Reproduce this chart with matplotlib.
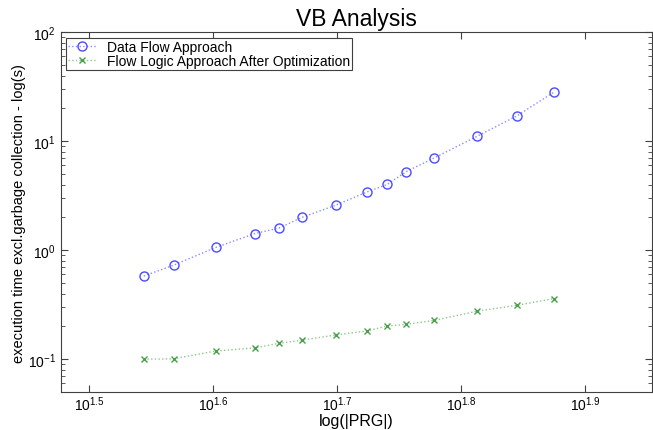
import matplotlib
matplotlib.use("Agg")
import matplotlib.pyplot as plt
import matplotlib.ticker as mticker
import numpy as np

plt.rcParams['font.family'] = ['Liberation Sans', 'DejaVu Sans']
plt.rcParams['mathtext.fontset'] = 'custom'
plt.rcParams['mathtext.rm'] = 'Liberation Sans'

# Data
prg_size = [35, 37, 40, 43, 45, 47, 50, 53, 55, 57, 60, 65, 70, 75]
data_flow = [0.58, 0.73, 1.06, 1.42, 1.60, 2.01, 2.59, 3.43, 4.01, 5.27, 7.01, 11.1, 17.1, 28.3]
flow_logic_opt = [0.100, 0.101, 0.119, 0.127, 0.140, 0.150, 0.167, 0.182, 0.202, 0.209, 0.227, 0.276, 0.313, 0.360]

x_tick_exp = [1.5, 1.6, 1.7, 1.8, 1.9]
x_tick_labels = [r'$10^{%s}$' % e for e in x_tick_exp]

fig = plt.figure(figsize=(6.53, 4.31), dpi=100)
ax = fig.add_axes([0.093, 0.088, 0.906, 0.835])

ax.plot(prg_size, data_flow, linestyle=':', color='#8c8cff', linewidth=1.0,
        marker='o', markersize=6.5, markerfacecolor='none',
        markeredgecolor='#4b4bff', markeredgewidth=1.0, label='Data Flow Approach')
ax.plot(prg_size, flow_logic_opt, linestyle=':', color='#8cc88c', linewidth=1.0,
        marker='x', markersize=4.5, markeredgecolor='#4aa04a', markeredgewidth=1.0,
        label='Flow Logic Approach After Optimization')

ax.set_xscale('log')
ax.set_yscale('log')
ax.set_xlim(30, 90)
ax.set_ylim(0.05, 100)

ax.set_xticks([10 ** e for e in x_tick_exp])
ax.xaxis.set_major_formatter(mticker.FixedFormatter(x_tick_labels))
ax.xaxis.set_minor_locator(mticker.NullLocator())
ax.yaxis.set_major_locator(mticker.LogLocator(base=10, numticks=10))
ax.yaxis.set_minor_locator(mticker.LogLocator(base=10, subs=np.arange(2, 10), numticks=10))

ax.tick_params(which='both', direction='in', top=True, right=True,
               labelsize=10, colors='#404040', labelcolor='black')
ax.tick_params(axis='x', pad=2)
ax.tick_params(which='major', length=5)
ax.tick_params(which='minor', length=3)
for sp in ax.spines.values():
    sp.set_color('#404040')
    sp.set_linewidth(0.8)

ax.set_title('VB Analysis', fontsize=16.5, pad=5)
ax.set_xlabel('log(|PRG|)', fontsize=11.5, labelpad=0)
ax.set_ylabel('execution time excl.garbage collection - log(s)', fontsize=10.5, labelpad=1)

leg = ax.legend(loc='upper left', fontsize=10, handlelength=2, borderpad=0.15,
                labelspacing=0.0, handletextpad=0.8, fancybox=False,
                framealpha=1, borderaxespad=0.4)
leg.get_frame().set_edgecolor('#404040')
leg.get_frame().set_linewidth(0.8)

fig.savefig('out.png', dpi=100)
